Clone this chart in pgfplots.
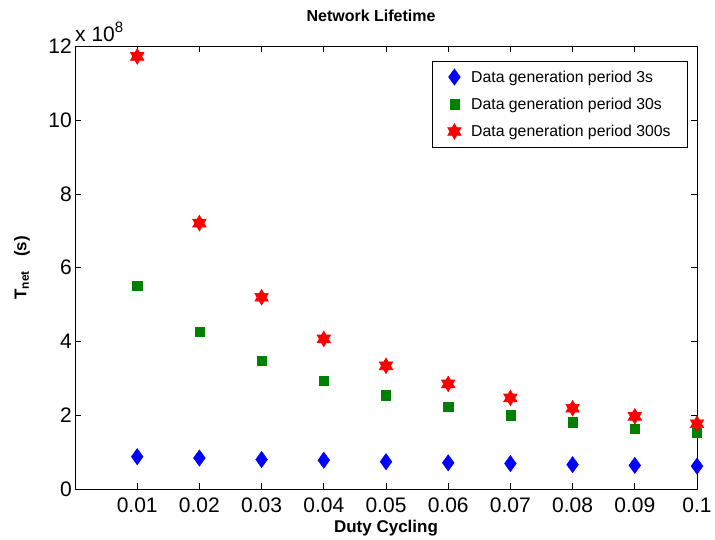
\documentclass[border=0pt]{standalone}
\usepackage{pgfplots}
\pgfplotsset{compat=1.18}
\usepackage{fontspec}
\setmainfont{Liberation Sans}

\definecolor{mblue}{rgb}{0,0,1}
\definecolor{mgreen}{rgb}{0,0.5,0}
\definecolor{mred}{rgb}{1,0,0}

\pgfdeclareplotmark{hexagram}{%
  \pgfpathmoveto{\pgfpointpolar{90}{\pgfplotmarksize}}%
  \pgfpathlineto{\pgfpointpolar{210}{\pgfplotmarksize}}%
  \pgfpathlineto{\pgfpointpolar{330}{\pgfplotmarksize}}%
  \pgfpathclose
  \pgfpathmoveto{\pgfpointpolar{270}{\pgfplotmarksize}}%
  \pgfpathlineto{\pgfpointpolar{30}{\pgfplotmarksize}}%
  \pgfpathlineto{\pgfpointpolar{150}{\pgfplotmarksize}}%
  \pgfpathclose
  \pgfusepathqfillstroke
}
\pgfdeclareplotmark{mdiamond}{%
  \pgfpathmoveto{\pgfqpoint{0pt}{\pgfplotmarksize}}%
  \pgfpathlineto{\pgfqpoint{0.72\pgfplotmarksize}{0pt}}%
  \pgfpathlineto{\pgfqpoint{0pt}{-\pgfplotmarksize}}%
  \pgfpathlineto{\pgfqpoint{-0.72\pgfplotmarksize}{0pt}}%
  \pgfpathclose
  \pgfusepathqfillstroke
}

\begin{document}
\begin{tikzpicture}
\useasboundingbox (-75pt,-51pt) rectangle (640pt,489pt);
\begin{axis}[
  at={(0,0)}, anchor=south west,
  scale only axis, width=622pt, height=442.5pt,
  xmin=0, xmax=0.1, ymin=0, ymax=12,
  xtick={0.01,0.02,0.03,0.04,0.05,0.06,0.07,0.08,0.09,0.1},
  xticklabels={0.01,0.02,0.03,0.04,0.05,0.06,0.07,0.08,0.09,0.1},
  ytick={0,2,4,6,8,10,12},
  yticklabels={0,2,4,6,8,10,12},
  tick align=inside, major tick length=6pt,
  tick style={black, line width=0.8pt},
  axis line style={line width=0.9pt},
  /pgf/number format/assume math mode=true,
  ticklabel style={font=\fontsize{21}{21}\selectfont, inner sep=0pt},
  xticklabel style={anchor=base, yshift=-24pt},
  yticklabel style={anchor=east, xshift=-3pt},
  title={Network Lifetime},
  title style={font=\bfseries\fontsize{16}{16}\selectfont, at={(axis description cs:0.476,1)}, anchor=base, yshift=18.5pt, inner sep=0pt},
  xlabel={Duty Cycling},
  xlabel style={font=\bfseries\fontsize{17}{17}\selectfont, at={(axis description cs:0.5,0)}, anchor=base, yshift=-44pt, inner sep=0pt},
  ylabel={T\textsubscript{net}~~~(s)},
  ylabel style={font=\bfseries\fontsize{17}{17}\selectfont, at={([xshift=-53pt]axis description cs:0,0.5)}, anchor=center, inner sep=0pt},
  clip=false,
  legend cell align=left,
  legend style={at={(0.9855,0.968)}, anchor=north east, draw=black, line width=0.8pt,
    font=\fontsize{15.8}{18}\selectfont, inner xsep=15pt, inner ysep=7.5pt, row sep=10.3pt,
    /tikz/every odd column/.append style={column sep=8pt}},
]
\addplot[only marks, mark=mdiamond, mark size=8.2pt, color=mblue, mark options={fill=mblue, line width=0.4pt}] coordinates {
(0.01,0.876) (0.02,0.84) (0.03,0.80) (0.04,0.78) (0.05,0.74)
(0.06,0.71) (0.07,0.69) (0.08,0.66) (0.09,0.64) (0.1,0.62)};
\addlegendentry{Data generation period 3s}
\addplot[only marks, mark=square*, mark size=4.6pt, color=mgreen, mark options={fill=mgreen, line width=0.5pt}] coordinates {
(0.01,5.52) (0.02,4.26) (0.03,3.48) (0.04,2.93) (0.05,2.54)
(0.06,2.24) (0.07,2.00) (0.08,1.81) (0.09,1.64) (0.1,1.53)};
\addlegendentry{Data generation period 30s}
\addplot[only marks, mark=hexagram, mark size=7.8pt, color=mred, mark options={fill=mred, line width=0.6pt}] coordinates {
(0.01,11.73) (0.02,7.21) (0.03,5.20) (0.04,4.07) (0.05,3.34)
(0.06,2.85) (0.07,2.47) (0.08,2.19) (0.09,1.97) (0.1,1.77)};
\addlegendentry{Data generation period 300s}
\node[anchor=base west, inner sep=0pt, font=\fontsize{21}{21}\selectfont] at (axis description cs:0,1) [yshift=5pt] {x 10\raisebox{9pt}{\fontsize{15}{15}\selectfont 8}};
\end{axis}
\end{tikzpicture}
\end{document}
